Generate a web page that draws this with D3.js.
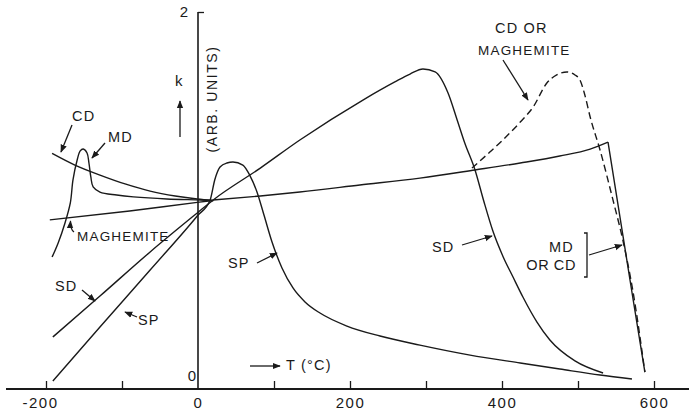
<!DOCTYPE html>
<html>
<head>
<meta charset="utf-8">
<script src="https://cdn.jsdelivr.net/npm/d3@7"></script>
<style>
  html, body { margin: 0; padding: 0; background: #fff; }
  svg { display: block; }
  text { font-family: "Liberation Sans", Arial, sans-serif; fill: #1a1a1a; }
</style>
</head>
<body>
<svg id="chart" width="689" height="412"></svg>
<script>
// ---- data (temperature in °C, susceptibility k in arbitrary units) ----
const xTickValues = [-200, -100, 0, 100, 200, 300, 400, 500, 600];
const xTickLabels = ["-200", "", "0", "", "200", "", "400", "", "600"];
const yTickValues = [0, 2];
const yTickLabels = ["0", "2"];

const cdLeftT = [-192, -162, -129, -96, -63, -30, -1, 20];
const cdLeftK = [1.25, 1.188, 1.135, 1.088, 1.050, 1.024, 1.008, 1.0];

const maghLeftT = [-195, -90, -1, 20];
const maghLeftK = [0.897, 0.944, 0.990, 1.0];

const mdLeftT = [-192, -184, -175, -168, -164.5, -159, -155, -151, -146, -143.5, -141, -138, -129, -107, -85, -41, 3, 20];
const mdLeftK = [0.70, 0.775, 0.881, 0.987, 1.109, 1.215, 1.263, 1.273, 1.252, 1.199, 1.125, 1.072, 1.045, 1.029, 1.019, 1.008, 1.003, 1.0];

// MD or CD heating curve: slow rise to the Curie point, then a straight drop
const mdcdRiseT = [20, 82, 134, 213, 292, 364.5, 424, 476, 516, 539.5];
const mdcdRiseK = [1.003, 1.024, 1.045, 1.082, 1.119, 1.162, 1.199, 1.236, 1.273, 1.310];
const mdcdDropT = [539.5, 572, 588];
const mdcdDropK = [1.310, 0.488, 0.090];

const cdMaghDashT = [360.5, 384, 401, 424, 441, 459, 472, 485.5, 496, 502.6, 509, 516, 529, 546, 559, 572, 588];
const cdMaghDashK = [1.172, 1.257, 1.321, 1.416, 1.496, 1.623, 1.666, 1.682, 1.666, 1.639, 1.560, 1.443, 1.268, 1.003, 0.790, 0.525, 0.090];

const sdT = [-191, -129, -63, -1, 20, 82, 134, 217, 259, 279, 296, 312, 329, 341, 351, 364.5, 376, 388, 401, 414.5, 427.5, 446, 463, 496, 533];
const sdK = [0.276, 0.493, 0.727, 0.934, 1.003, 1.172, 1.321, 1.533, 1.629, 1.671, 1.698, 1.682, 1.570, 1.427, 1.305, 1.162, 0.997, 0.838, 0.706, 0.594, 0.488, 0.355, 0.260, 0.149, 0.085];

const spT = [-191, -129, -63, -1, 16, 22, 29, 38, 46, 59, 68, 77.6, 86.8, 97.4, 110.5, 125, 140.8, 160.5, 196, 239.5, 292, 358, 424, 476, 529, 571];
const spK = [0.042, 0.329, 0.631, 0.918, 1.003, 1.109, 1.178, 1.199, 1.204, 1.188, 1.135, 1.045, 0.923, 0.780, 0.642, 0.536, 0.462, 0.403, 0.334, 0.281, 0.233, 0.180, 0.138, 0.106, 0.074, 0.053];

// ---- drawing ----
const svg = d3.select("#chart");
const INK = "#1a1a1a";

const x = d3.scaleLinear().domain([-200, 600]).range([46, 654]);
const y = d3.scaleLinear().domain([0, 2]).range([389, 12]);

const zip = (t, k) => t.map((v, i) => [v, k[i]]);
const smooth = d3.line().x(d => x(d[0])).y(d => y(d[1])).curve(d3.curveMonotoneX);
const straight = d3.line().x(d => x(d[0])).y(d => y(d[1])).curve(d3.curveLinear);

// arrow marker
const defs = svg.append("defs");
defs.append("marker").attr("id", "ah").attr("viewBox", "0 0 10 10")
  .attr("refX", 9).attr("refY", 5).attr("markerWidth", 8).attr("markerHeight", 8)
  .attr("markerUnits", "userSpaceOnUse").attr("orient", "auto")
  .append("path").attr("d", "M0,1 L10,5 L0,9 Z").attr("fill", INK);

// x axis
const xAxis = d3.axisBottom(x).tickValues(xTickValues)
  .tickFormat((d, i) => xTickLabels[i]).tickSizeInner(-8).tickSizeOuter(0).tickPadding(8);
const gx = svg.append("g").attr("transform", `translate(0,${y(0)})`).call(xAxis);
gx.select(".domain").remove();
gx.selectAll(".tick line").attr("stroke", INK).attr("stroke-width", 1.3);
gx.selectAll(".tick text").attr("font-size", 15).attr("letter-spacing", 1.5)
  .attr("fill", INK).attr("font-family", "Liberation Sans, Arial, sans-serif")
  .attr("dx", d => d < 0 ? -6 : 0);
gx.selectAll(".tick").filter(d => d === 0).select("line").remove();
svg.append("line").attr("x1", 6).attr("x2", 689).attr("y1", y(0)).attr("y2", y(0))
  .attr("stroke", INK).attr("stroke-width", 2);

// y axis
const yAxis = d3.axisLeft(y).tickValues(yTickValues)
  .tickFormat((d, i) => yTickLabels[i]).tickSizeInner(-6).tickSizeOuter(0).tickPadding(10);
const gy = svg.append("g").attr("transform", `translate(${x(0)},0)`).call(yAxis);
gy.select(".domain").remove();
gy.selectAll(".tick line").attr("stroke", INK).attr("stroke-width", 1.3);
gy.selectAll(".tick").filter(d => d === 0).select("line").remove();
gy.selectAll(".tick text").attr("font-size", 15).attr("fill", INK)
  .attr("font-family", "Liberation Sans, Arial, sans-serif");
gy.selectAll(".tick").filter(d => d === 0).select("text").attr("x", -2).attr("dy", "-0.55em");
svg.append("line").attr("x1", x(0)).attr("x2", x(0)).attr("y1", y(2)).attr("y2", y(0))
  .attr("stroke", INK).attr("stroke-width", 1.6);

// curves
const curves = [
  [cdLeftT, cdLeftK, smooth, false],
  [maghLeftT, maghLeftK, smooth, false],
  [mdLeftT, mdLeftK, d3.line().x(d => x(d[0])).y(d => y(d[1])).curve(d3.curveCatmullRom.alpha(0.5)), false],
  [mdcdRiseT, mdcdRiseK, smooth, false],
  [mdcdDropT, mdcdDropK, straight, false],
  [sdT, sdK, smooth, false],
  [spT, spK, smooth, false],
  [cdMaghDashT, cdMaghDashK, smooth, true]
];
curves.forEach(([t, k, gen, dashed]) => {
  svg.append("path").datum(zip(t, k)).attr("d", gen)
    .attr("fill", "none").attr("stroke", INK).attr("stroke-width", 1.4)
    .attr("stroke-linejoin", "round")
    .attr("stroke-dasharray", dashed ? "7,4" : null);
});

// annotations (pixel layout)
const labels = [
  ["CD", 72, 121, 14.5],
  ["MD", 108, 142, 14.5],
  ["MAGHEMITE", 77, 241, 13.5],
  ["SD", 55, 291, 14.5],
  ["SP", 138, 325, 14.5],
  ["SP", 228, 268, 14.5],
  ["SD", 432, 252, 14.5],
  ["CD OR", 495, 33, 14.5],
  ["MAGHEMITE", 478, 55, 13.5],
  ["T (°C)", 286, 370, 14.5]
];
labels.forEach(([txt, lx, ly, fs]) => {
  svg.append("text").attr("x", lx).attr("y", ly).attr("font-size", fs)
    .attr("letter-spacing", 1.2).text(txt);
});
svg.append("text").attr("x", 574).attr("y", 252).attr("font-size", 14.5)
  .attr("letter-spacing", 1.2).attr("text-anchor", "end").text("MD");
svg.append("text").attr("x", 576).attr("y", 270).attr("font-size", 14.5)
  .attr("letter-spacing", 0.6).attr("text-anchor", "end").text("OR CD");
svg.append("text").attr("x", 175).attr("y", 86).attr("font-size", 15).text("k");
svg.append("text").attr("transform", "translate(217,99) rotate(-90)")
  .attr("text-anchor", "middle").attr("font-size", 14).attr("letter-spacing", 1.6)
  .text("(ARB. UNITS)");

const arrows = [
  [72, 125, 61, 152],
  [105, 143, 92, 158],
  [82, 290, 95, 301],
  [137, 317, 125, 312],
  [257, 263, 277, 253],
  [462, 245, 492, 236],
  [589, 255, 622, 245],
  [503, 60, 528, 100],
  [250, 366, 280, 366],
  [180, 137, 180, 101]
];
arrows.forEach(([x1, y1, x2, y2]) => {
  svg.append("line").attr("x1", x1).attr("y1", y1).attr("x2", x2).attr("y2", y2)
    .attr("stroke", INK).attr("stroke-width", 1.3).attr("marker-end", "url(#ah)");
});
// maghemite hook arrow
svg.append("path").attr("d", "M74,232 Q70,229 70.5,221").attr("fill", "none")
  .attr("stroke", INK).attr("stroke-width", 1.2).attr("marker-end", "url(#ah)");
// bracket for MD or CD
svg.append("path").attr("d", "M584,233 L587,233 L587,277 L584,277").attr("fill", "none")
  .attr("stroke", INK).attr("stroke-width", 1.3);
</script>
</body>
</html>
